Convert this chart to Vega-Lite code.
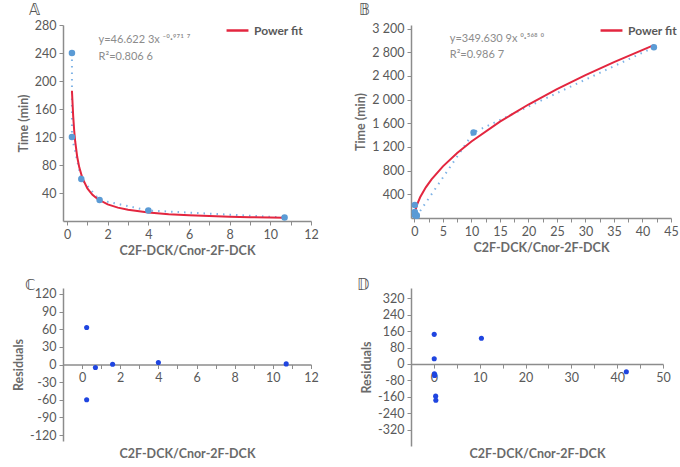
{
  "$schema": "https://vega.github.io/schema/vega-lite/v6.json",
  "padding": {"left": 12, "top": 3, "right": 0, "bottom": 2},
  "datasets": {
    "ptsA": [
      {"i": 1, "ratio": 0.24, "time": 240},
      {"i": 2, "ratio": 0.24, "time": 120},
      {"i": 3, "ratio": 0.7, "time": 60},
      {"i": 4, "ratio": 1.6, "time": 30},
      {"i": 5, "ratio": 4.0, "time": 15},
      {"i": 6, "ratio": 10.7, "time": 5}
    ],
    "fitA": [
      {"ratio": 0.24, "time": 186},
      {"ratio": 0.3, "time": 150.2},
      {"ratio": 0.35, "time": 129.3},
      {"ratio": 0.4, "time": 113.6},
      {"ratio": 0.5, "time": 91.4},
      {"ratio": 0.6, "time": 76.6},
      {"ratio": 0.75, "time": 61.7},
      {"ratio": 1, "time": 46.6},
      {"ratio": 1.25, "time": 37.5},
      {"ratio": 1.5, "time": 31.4},
      {"ratio": 2, "time": 23.8},
      {"ratio": 2.5, "time": 19.1},
      {"ratio": 3, "time": 16.0},
      {"ratio": 4, "time": 12.1},
      {"ratio": 5, "time": 9.8},
      {"ratio": 6, "time": 8.2},
      {"ratio": 7, "time": 7.0},
      {"ratio": 8, "time": 6.2},
      {"ratio": 9, "time": 5.5},
      {"ratio": 10, "time": 5.0},
      {"ratio": 10.7, "time": 4.7}
    ],
    "ptsB": [
      {"i": 1, "ratio": 0.07, "time": 221},
      {"i": 2, "ratio": 0.07, "time": 102},
      {"i": 3, "ratio": 0.1, "time": 47},
      {"i": 4, "ratio": 0.15, "time": 63},
      {"i": 5, "ratio": 0.38, "time": 45},
      {"i": 6, "ratio": 0.42, "time": 36},
      {"i": 7, "ratio": 10.37, "time": 1445},
      {"i": 8, "ratio": 42, "time": 2883}
    ],
    "fitB": [
      {"ratio": 0.07, "time": 77},
      {"ratio": 0.1, "time": 94.5},
      {"ratio": 0.2, "time": 140},
      {"ratio": 0.5, "time": 236},
      {"ratio": 1, "time": 350},
      {"ratio": 2, "time": 518},
      {"ratio": 3, "time": 653},
      {"ratio": 5, "time": 872},
      {"ratio": 7.5, "time": 1098},
      {"ratio": 10, "time": 1293},
      {"ratio": 15, "time": 1628},
      {"ratio": 20, "time": 1917},
      {"ratio": 25, "time": 2176},
      {"ratio": 30, "time": 2413},
      {"ratio": 35, "time": 2634},
      {"ratio": 42, "time": 2921}
    ],
    "resC": [
      {"ratio": 0.24, "res": 63},
      {"ratio": 0.24, "res": -60},
      {"ratio": 0.7, "res": -5},
      {"ratio": 1.6, "res": 0.3},
      {"ratio": 4.0, "res": 3.5},
      {"ratio": 10.7, "res": 1}
    ],
    "resD": [
      {"ratio": 0.07, "res": 144},
      {"ratio": 0.07, "res": 25},
      {"ratio": 0.1, "res": -48},
      {"ratio": 0.15, "res": -56},
      {"ratio": 0.38, "res": -157},
      {"ratio": 0.42, "res": -177},
      {"ratio": 10.37, "res": 125},
      {"ratio": 42, "res": -38}
    ]
  },
  "columns": 2,
  "spacing": {"row": 20, "column": 35},
  "resolve": {"scale": {"color": "independent"}, "legend": {"color": "independent"}},
  "concat": [
    {
      "width": 248,
      "height": 196,
      "title": {"text": "𝔸", "dx": -34, "offset": 0},
      "encoding": {
        "x": {"field": "ratio", "type": "quantitative", "scale": {"domain": [-0.2, 12], "nice": false},
          "axis": {"values": [0, 1, 2, 3, 4, 5, 6, 7, 8, 9, 10, 11, 12], "labelExpr": "datum.value % 2 === 0 ? datum.label : ''", "labelOverlap": false, "title": "C2F-DCK/Cnor-2F-DCK"}},
        "y": {"field": "time", "type": "quantitative", "scale": {"domain": [0, 280], "nice": false},
          "axis": {"values": [40, 80, 120, 160, 200, 240, 280], "labelOverlap": false, "title": "Time (min)"}}
      },
      "layer": [
        {
          "data": {"name": "ptsA"},
          "mark": {"type": "line", "strokeDash": [1.5, 5], "strokeWidth": 2, "color": "#7fb3e6"},
          "encoding": {"order": {"field": "i"}}
        },
        {
          "data": {"name": "fitA"},
          "mark": {"type": "line", "strokeWidth": 2},
          "encoding": {
            "color": {"datum": "Power fit", "scale": {"range": ["#e3263f"]},
              "legend": {"title": null, "orient": "none", "legendX": 162, "legendY": -7}}
          }
        },
        {
          "data": {"name": "ptsA"},
          "mark": {"type": "circle", "size": 42, "color": "#5b9bd5", "opacity": 1}
        },
        {
          "data": {"values": [{"t": "y=46.622 3x ⁻⁰·⁹⁷¹ ⁷", "ratio": 1.55, "time": 258}, {"t": "R²=0.806 6", "ratio": 1.55, "time": 235}]},
          "mark": {"type": "text", "align": "left", "baseline": "middle", "fontSize": 11, "color": "#8c8c8c", "font": "Lato"},
          "encoding": {"text": {"field": "t"}}
        }
      ]
    },
    {
      "width": 260,
      "height": 193,
      "title": {"text": "𝔹", "dx": -52, "offset": 0},
      "encoding": {
        "x": {"field": "ratio", "type": "quantitative", "scale": {"domain": [-0.6, 45], "nice": false},
          "axis": {"values": [0, 2.5, 5, 7.5, 10, 12.5, 15, 17.5, 20, 22.5, 25, 27.5, 30, 32.5, 35, 37.5, 40, 42.5, 45], "labelExpr": "datum.value % 5 === 0 ? datum.label : ''", "labelOverlap": false, "title": "C2F-DCK/Cnor-2F-DCK"}},
        "y": {"field": "time", "type": "quantitative", "scale": {"domain": [0, 3260], "nice": false},
          "axis": {"values": [400, 800, 1200, 1600, 2000, 2400, 2800, 3200], "labelExpr": "replace(format(datum.value, ','), ',', ' ')", "labelOverlap": false, "title": "Time (min)"}}
      },
      "layer": [
        {
          "data": {"name": "ptsB"},
          "mark": {"type": "line", "strokeDash": [1.5, 5], "strokeWidth": 2, "color": "#7fb3e6"},
          "encoding": {"order": {"field": "i"}}
        },
        {
          "data": {"name": "fitB"},
          "mark": {"type": "line", "strokeWidth": 2},
          "encoding": {
            "color": {"datum": "Power fit", "scale": {"range": ["#e3263f"]},
              "legend": {"title": null, "orient": "none", "legendX": 188, "legendY": -7}}
          }
        },
        {
          "data": {"name": "ptsB"},
          "mark": {"type": "circle", "size": 42, "color": "#5b9bd5", "opacity": 1}
        },
        {
          "data": {"values": [{"t": "y=349.630 9x ⁰·⁵⁶⁸ ⁰", "ratio": 6.2, "time": 3019}, {"t": "R²=0.986 7", "ratio": 6.2, "time": 2748}]},
          "mark": {"type": "text", "align": "left", "baseline": "middle", "fontSize": 11, "color": "#8c8c8c", "font": "Lato"},
          "encoding": {"text": {"field": "t"}}
        }
      ]
    },
    {
      "width": 248,
      "height": 153,
      "title": {"text": "ℂ", "dx": -38, "offset": -5},
      "data": {"name": "resC"},
      "mark": {"type": "circle", "size": 26, "color": "#1f45e0", "opacity": 1},
      "encoding": {
        "x": {"field": "ratio", "type": "quantitative", "scale": {"domain": [-1, 12], "nice": false},
          "axis": {"values": [0, 1, 2, 3, 4, 5, 6, 7, 8, 9, 10, 11, 12], "labelExpr": "datum.value % 2 === 0 ? datum.label : ''", "labelOverlap": false, "offset": -76.5, "title": "C2F-DCK/Cnor-2F-DCK", "titleY": 83}},
        "y": {"field": "res", "type": "quantitative", "scale": {"domain": [-130, 130], "nice": false},
          "axis": {"values": [-120, -90, -60, -30, 0, 30, 60, 90, 120], "labelExpr": "replace(datum.label, '−', '-')", "labelOverlap": false, "title": "Residuals"}}
      }
    },
    {
      "width": 252,
      "height": 158,
      "title": {"text": "𝔻", "dx": -54, "offset": -5},
      "data": {"name": "resD"},
      "mark": {"type": "circle", "size": 26, "color": "#1f45e0", "opacity": 1},
      "encoding": {
        "x": {"field": "ratio", "type": "quantitative", "scale": {"domain": [-5, 50], "nice": false},
          "axis": {"values": [0, 5, 10, 15, 20, 25, 30, 35, 40, 45, 50], "labelExpr": "datum.value % 10 === 0 ? datum.label : ''", "labelOverlap": false, "offset": -81.9, "title": "C2F-DCK/Cnor-2F-DCK", "titleY": 83}},
        "y": {"field": "res", "type": "quantitative", "scale": {"domain": [-400, 370], "nice": false},
          "axis": {"values": [-320, -240, -160, -80, 0, 80, 160, 240, 320], "labelExpr": "replace(datum.label, '−', '-')", "labelOverlap": false, "title": "Residuals"}}
      }
    }
  ],
  "config": {
    "view": {"stroke": null},
    "font": "Lato",
    "title": {"anchor": "start", "frame": "group", "font": "DejaVu Sans", "fontSize": 15, "fontWeight": "normal", "color": "#555555"},
    "axis": {
      "grid": false,
      "domainColor": "#8c8c8c",
      "domainWidth": 1.5,
      "tickColor": "#8c8c8c",
      "tickWidth": 1,
      "tickSize": 4,
      "labelFont": "Lato",
      "labelFontSize": 12.5,
      "labelColor": "#595959",
      "labelPadding": 3,
      "labelFlush": false,
      "labelOverlap": false,
      "titleFont": "Lato",
      "titleFontSize": 12.5,
      "titleFontWeight": "bold",
      "titleColor": "#6a6a6a"
    },
    "legend": {
      "symbolType": "stroke",
      "symbolSize": 480,
      "symbolStrokeWidth": 2.5,
      "labelFont": "Lato",
      "labelFontSize": 12,
      "labelFontWeight": "bold",
      "labelColor": "#595959",
      "padding": 0
    }
  }
}
